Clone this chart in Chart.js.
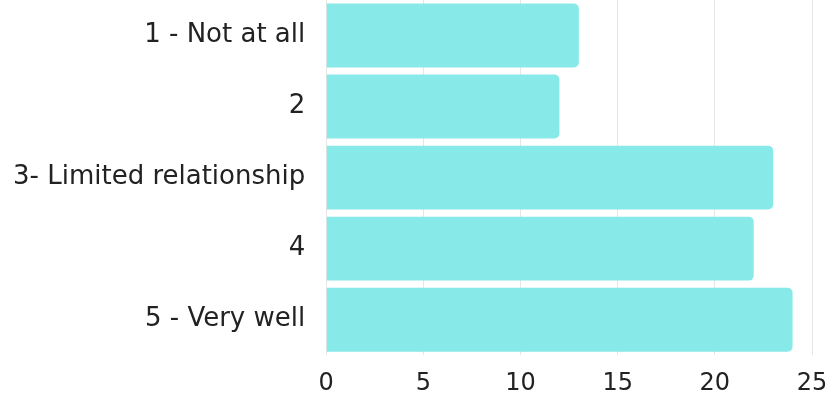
<!DOCTYPE html>
<html><head><meta charset="utf-8">
<script src="https://cdn.jsdelivr.net/npm/chart.js@4/dist/chart.umd.min.js"></script>
<style>html,body{margin:0;padding:0;background:#fff}#wrap{width:827px;height:394px}</style>
</head><body><div id="wrap"><canvas id="c"></canvas></div>
<script>
const categories = ["1 - Not at all", "2", "3- Limited relationship", "4", "5 - Very well"];
const values = [13, 12, 23, 22, 24];
const xTicks = [0, 5, 10, 15, 20, 25];

new Chart(document.getElementById('c'), {
  type: 'bar',
  data: { labels: categories, datasets: [{ data: values, backgroundColor: '#87E9E8', borderRadius: 5, borderSkipped: 'start', barPercentage: 0.9, categoryPercentage: 1.0 }] },
  options: {
    indexAxis: 'y', responsive: true, maintainAspectRatio: false, animation: false,
    layout: { padding: { top: 0, right: 15, bottom: 0, left: 0 } },
    plugins: { legend: { display: false }, tooltip: { enabled: false } },
    scales: {
      x: { min: xTicks[0], max: xTicks[xTicks.length-1],
           ticks: { stepSize: 5, color: '#222', font: { family: 'DejaVu Sans', size: 24 }, padding: 14 },
           grid: { color: '#e6e6e6', drawTicks: false }, border: { display: false },
           afterFit: s => { s.paddingLeft = 0; s.paddingRight = 0; s.height -= 18; } },
      y: { ticks: { color: '#222', font: { family: 'DejaVu Sans', size: 26 }, padding: 13 },
           grid: { display: false }, border: { display: false },
           afterFit: s => { s.paddingTop = 0; s.paddingBottom = 0; } }
    }
  }
});
</script></body></html>
